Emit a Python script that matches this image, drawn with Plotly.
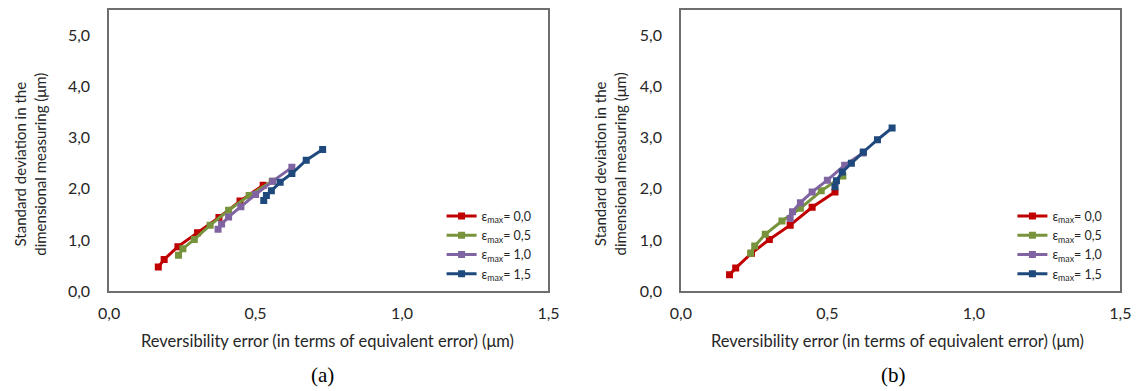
import plotly.graph_objects as go

# ---- data ----
series_names = ["ε<sub>max</sub>= 0,0", "ε<sub>max</sub>= 0,5", "ε<sub>max</sub>= 1,0", "ε<sub>max</sub>= 1,5"]
colors = ["#C00000", "#77933C", "#8064A2", "#1F497D"]

# panel (a)
a_x_e00 = [0.168, 0.188, 0.235, 0.302, 0.375, 0.447, 0.526]
a_y_e00 = [0.47, 0.62, 0.87, 1.14, 1.44, 1.76, 2.07]
a_x_e05 = [0.237, 0.252, 0.291, 0.345, 0.408, 0.478, 0.557]
a_y_e05 = [0.70, 0.83, 1.01, 1.29, 1.58, 1.87, 2.15]
a_x_e10 = [0.372, 0.384, 0.408, 0.450, 0.500, 0.559, 0.624]
a_y_e10 = [1.21, 1.31, 1.45, 1.65, 1.89, 2.15, 2.42]
a_x_e15 = [0.528, 0.537, 0.554, 0.584, 0.624, 0.673, 0.729]
a_y_e15 = [1.77, 1.87, 1.96, 2.13, 2.30, 2.56, 2.77]

# panel (b)
b_x_e00 = [0.166, 0.187, 0.241, 0.302, 0.373, 0.448, 0.526]
b_y_e00 = [0.32, 0.45, 0.74, 1.01, 1.29, 1.64, 1.94]
b_x_e05 = [0.238, 0.252, 0.288, 0.345, 0.408, 0.479, 0.553]
b_y_e05 = [0.74, 0.88, 1.11, 1.37, 1.62, 1.96, 2.25]
b_x_e10 = [0.373, 0.381, 0.408, 0.448, 0.500, 0.559, 0.622]
b_y_e10 = [1.42, 1.55, 1.73, 1.94, 2.17, 2.46, 2.70]
b_x_e15 = [0.526, 0.531, 0.551, 0.582, 0.623, 0.671, 0.721]
b_y_e15 = [2.04, 2.16, 2.33, 2.50, 2.72, 2.96, 3.19]

x_tickvals = [0, 0.5, 1.0, 1.5]
x_ticktext = ["0,0", "0,5", "1,0", "1,5"]
y_tickvals = [0, 1, 2, 3, 4, 5]
y_ticktext = ["0,0", "1,0", "2,0", "3,0", "4,0", "5,0"]

x_title = "Reversibility error (in terms of equivalent error) (μm)"
y_title = "Standard deviation in the<br>dimensional measuring (μm)"
panel_labels = ["(a)", "(b)"]

W, H = 1147, 391
FONT = "Lato"
TXT = "#262626"

fig = go.Figure()

panels = [
    ([a_x_e00, a_x_e05, a_x_e10, a_x_e15], [a_y_e00, a_y_e05, a_y_e10, a_y_e15], "x", "y", "legend"),
    ([b_x_e00, b_x_e05, b_x_e10, b_x_e15], [b_y_e00, b_y_e05, b_y_e10, b_y_e15], "x2", "y2", "legend2"),
]
for xs_list, ys_list, xa, ya, lg in panels:
    for name, col, xs, ys in zip(series_names, colors, xs_list, ys_list):
        fig.add_trace(go.Scatter(
            x=xs, y=ys, mode="lines+markers", name=name,
            line=dict(color=col, width=3),
            marker=dict(symbol="square", size=7, color=col),
            xaxis=xa, yaxis=ya, legend=lg,
        ))

# pixel geometry
def px_x(p):
    return p / W

def px_y(p):
    return 1 - p / H

dom_a = [px_x(100), px_x(548)]
dom_b = [px_x(683), px_x(1131)]
dom_y = [px_y(298), px_y(10)]

axis_common = dict(
    showgrid=False, zeroline=False, showline=True, mirror=True,
    linecolor="#6e6e6e", linewidth=1.5, ticks="",
    tickfont=dict(family=FONT, size=16, color=TXT),
)

leg_common = dict(xanchor="left", yanchor="top", bgcolor="rgba(0,0,0,0)",
                  font=dict(family=FONT, size=12.5, color=TXT),
                  tracegroupgap=0, itemwidth=30)

fig.update_layout(
    width=W, height=H,
    margin=dict(l=0, r=0, t=0, b=0),
    paper_bgcolor="white", plot_bgcolor="white",
    font=dict(family=FONT, color=TXT),
    xaxis=dict(domain=dom_a, range=[0, 1.5], tickvals=x_tickvals, ticktext=x_ticktext,
               anchor="y", ticklabelstandoff=7, **axis_common),
    yaxis=dict(domain=dom_y, range=[0, 5.5], tickvals=y_tickvals, ticktext=y_ticktext,
               anchor="x", ticklabelstandoff=14, **axis_common),
    xaxis2=dict(domain=dom_b, range=[0, 1.5], tickvals=x_tickvals, ticktext=x_ticktext,
                anchor="y2", ticklabelstandoff=7, **axis_common),
    yaxis2=dict(domain=dom_y, range=[0, 5.5], tickvals=y_tickvals, ticktext=y_ticktext,
                anchor="x2", ticklabelstandoff=14, **axis_common),
    legend=dict(x=px_x(439), y=px_y(206), **leg_common),
    legend2=dict(x=px_x(1021), y=px_y(206), **leg_common),
)

annots = []
for cx in [323, 904]:
    annots.append(dict(text=x_title, x=px_x(cx), y=px_y(349), xref="paper", yref="paper",
                       xanchor="center", yanchor="middle", showarrow=False,
                       font=dict(family=FONT, size=16.5, color=TXT)))
for cx in [20, 611]:
    annots.append(dict(text=y_title, x=px_x(cx), y=px_y(168), xref="paper", yref="paper",
                       xanchor="center", yanchor="middle", showarrow=False, textangle=-90,
                       font=dict(family=FONT, size=15, color=TXT)))
for cx, lab in zip([318, 900], panel_labels):
    annots.append(dict(text=lab, x=px_x(cx), y=px_y(384), xref="paper", yref="paper",
                       xanchor="center", yanchor="middle", showarrow=False,
                       font=dict(family="Liberation Serif", size=21, color="black")))
fig.update_layout(annotations=annots)

css = ("html,body{margin:0!important;padding:0!important;overflow:hidden!important;"
       "width:1147px;height:391px;}")
post = ("var s=document.createElement('style');s.innerHTML='" + css + "';"
        "document.head.appendChild(s);")

fig.write_html("out.html", config={"displayModeBar": False}, post_script=post)
